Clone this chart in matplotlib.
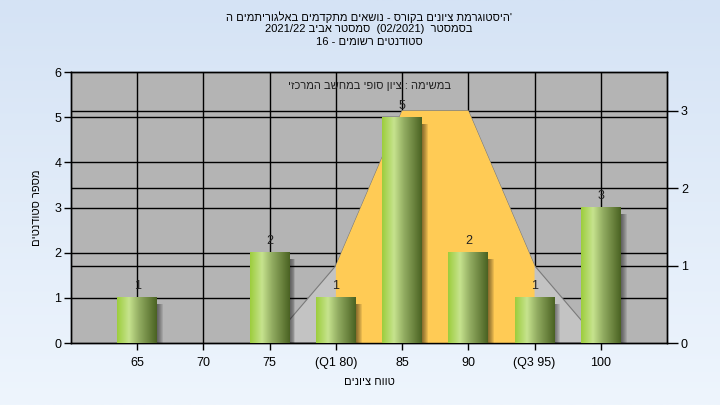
import numpy as np
import matplotlib
matplotlib.use('Agg')
import matplotlib.pyplot as plt
from matplotlib.colors import LinearSegmentedColormap
from matplotlib.patches import Polygon, Rectangle

plt.rcParams['font.family'] = ['Liberation Sans', 'DejaVu Sans']

# data
grade_labels = ['65', '70', '75', '(Q1 80)', '85', '90', '(Q3 95)', '100']
counts = [1, 0, 2, 1, 5, 2, 1, 3]
# box shape (right axis): x positions in category index, heights
shape_x = [2, 3, 4, 5, 6, 7]
shape_y = [0, 1, 3, 3, 1, 0]
q1_idx, q3_idx = 3, 6

# texts in reading (right-to-left) order
title_words = [["'היסטוגרמת", 'ציונים', 'בקורס', '-', 'נושאים', 'מתקדמים', 'באלגוריתמים', 'ה'],
               ['בסמסטר', ' (02/2021) ', 'סמסטר', 'אביב', '2021/22'],
               ['סטודנטים', 'רשומים', '-', '16']]
inner_words = ['במשימה', ':', 'ציון', 'סופי', 'במחשב', 'המרכזי']
xlabel_words = ['טווח', 'ציונים']
ylabel_words = ['מספר', 'סטודנטים']


def heb(words):
    # matplotlib has no bidi: lay the words out right-to-left by hand
    out = []
    for w in reversed(words):
        if any('\u0590' <= c <= '\u05ff' for c in w):
            out.append(w[::-1])
        else:
            out.append(w)
    return ' '.join(out)


fig = plt.figure(figsize=(7.2, 4.05), dpi=100)

# background gradient
bg = fig.add_axes([0, 0, 1, 1], zorder=-10)
grad = np.linspace(0, 1, 256).reshape(-1, 1)
bg_cmap = LinearSegmentedColormap.from_list('bg', ['#d5e3f5', '#eef5fd'])
bg.imshow(grad, aspect='auto', cmap=bg_cmap, extent=[0, 1, 0, 1], origin='upper')
bg.axis('off')

x = np.arange(len(counts))

ax = fig.add_axes([0.0986, 0.153, 0.8278, 0.669])
ax.set_facecolor('#b4b4b4')
ax2 = ax.twinx()

# swap sides: count scale on left, shape scale on right
ax.yaxis.tick_right()
ax2.yaxis.tick_left()
ax.set_yticks([0, 1, 2, 3])
ax2.set_yticks(range(7))
ax.set_xticks(x)
ax.set_xticklabels(grade_labels)

# grid lines (under the shape)
ax.vlines(x, 0, 3.5, color='black', lw=1, zorder=1)
ax.hlines([1, 2, 3], -1, 8, color='black', lw=1, zorder=1)
ax.hlines([1, 2, 3, 4, 5], -1, 8, color='black', lw=1, zorder=1,
          transform=ax2.transData)

# quartile shape
pts = list(zip(shape_x, shape_y))
ax.add_patch(Polygon(pts, closed=True, facecolor='#c3c3c3', edgecolor='#7a7a7a',
                     lw=0.8, zorder=2))
ypts = [(q1_idx, 0)] + [p for p in pts if q1_idx <= p[0] <= q3_idx] + [(q3_idx, 0)]
ax.add_patch(Polygon(ypts, closed=True, facecolor='#ffcb55', edgecolor='none', zorder=3))

# bars with shadow and gradient
bar_cmap = LinearSegmentedColormap.from_list(
    'bar', [(0, '#9ccd3c'), (0.3, '#c6e38e'), (0.55, '#93ad62'), (1, '#4a6222')])
bar_grad = np.linspace(0, 1, 256).reshape(1, -1)
w = 0.6
for xi, v in zip(x, counts):
    if v == 0:
        continue
    for k in range(6):
        dx = 0.015 * (k + 1)
        ax2.add_patch(Rectangle((xi - w / 2 + dx, -0.12), w, v - 0.02, facecolor='black',
                                alpha=0.09, lw=0, zorder=2))
    ax2.imshow(bar_grad, cmap=bar_cmap, aspect='auto', zorder=3,
               extent=[xi - w / 2, xi + w / 2, 0, v])
    ax2.text(xi, v + 0.12, str(v), ha='center', va='bottom', fontsize=9,
             color='#222222', zorder=4)

ax.set_xlim(-1, 8)
ax.set_ylim(0, 3.5)
ax2.set_xlim(-1, 8)
ax2.set_ylim(0, 6)

for a in (ax, ax2):
    for s in a.spines.values():
        s.set_color('black')
        s.set_linewidth(1)
ax.tick_params(axis='x', length=5, width=1, labelsize=9, pad=5)
ax.tick_params(axis='y', length=8, width=1, labelsize=9, pad=2)
ax2.tick_params(axis='y', length=5, width=1, labelsize=9, pad=2)

ax.text(0.5, 0.948, heb(inner_words), transform=ax.transAxes, ha='center',
        va='center', fontsize=8, color='#202020', zorder=5)

ax.set_xlabel(heb(xlabel_words), fontsize=8, labelpad=6)
ax2.yaxis.set_label_position('left')
ax2.set_ylabel(heb(ylabel_words), fontsize=8, labelpad=9)

for i, line in enumerate(title_words):
    fig.text(369 / 720, 1 - (17 + 12.5 * i) / 405, heb(line), ha='center',
             va='center', fontsize=8, color='black')

fig.savefig('out.png', dpi=100)
